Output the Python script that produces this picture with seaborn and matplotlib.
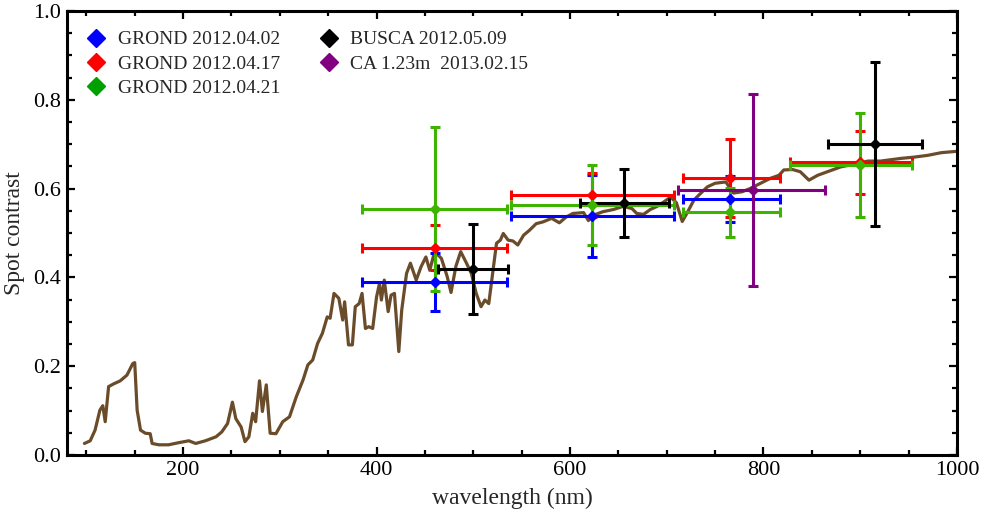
import pandas as pd
import seaborn as sns
import matplotlib.pyplot as plt
from matplotlib.lines import Line2D
from matplotlib.ticker import MultipleLocator

# spectrum (brown curve)
wave = [98, 104, 109, 114, 117, 119.5, 123, 128, 135, 142, 148, 150, 152.5, 156, 161, 166,
        168, 175, 185, 196, 206, 213, 223, 234, 240, 246, 251, 254.5, 260, 264, 268, 272,
        275, 279, 282, 286, 290, 296, 303, 310, 317, 324, 329, 334, 339, 344, 349, 352,
        356, 361, 365, 367, 371, 375, 378, 382, 385, 388.5, 392, 396, 400, 403, 405, 408,
        412, 415, 418.5, 423, 426, 431, 435, 441, 446, 451, 455, 460, 467, 473, 477, 482,
        487, 493, 498, 503, 508, 512, 516, 520, 524, 528, 531, 536, 541, 546, 552, 558,
        565, 572, 581, 589, 596, 603, 614, 619, 624, 634, 645, 655, 664, 669, 676, 683,
        690, 697, 704, 710, 716, 721, 728, 733, 742, 750, 761, 769, 778, 786, 797, 807,
        816, 821, 830, 838, 847, 856, 866, 880, 894, 908, 921, 942, 956, 970, 984, 1000]
contrast = [0.026, 0.032, 0.056, 0.101, 0.111, 0.075, 0.154, 0.160, 0.167, 0.180, 0.206, 0.208,
            0.101, 0.056, 0.049, 0.048, 0.026, 0.023, 0.023, 0.028, 0.032, 0.026, 0.032, 0.041,
            0.052, 0.071, 0.119, 0.082, 0.063, 0.030, 0.041, 0.094, 0.075, 0.167, 0.098, 0.158,
            0.049, 0.048, 0.075, 0.086, 0.131, 0.169, 0.203, 0.214, 0.251, 0.274, 0.311, 0.308,
            0.364, 0.353, 0.304, 0.345, 0.248, 0.248, 0.334, 0.341, 0.364, 0.285, 0.289, 0.285,
            0.356, 0.386, 0.349, 0.394, 0.323, 0.360, 0.364, 0.233, 0.326, 0.409, 0.432, 0.394,
            0.424, 0.446, 0.416, 0.458, 0.443, 0.402, 0.366, 0.425, 0.458, 0.432, 0.409, 0.364,
            0.334, 0.349, 0.341, 0.409, 0.477, 0.484, 0.499, 0.484, 0.482, 0.473, 0.495, 0.506,
            0.521, 0.525, 0.533, 0.523, 0.536, 0.544, 0.546, 0.528, 0.540, 0.548, 0.553, 0.560,
            0.555, 0.544, 0.542, 0.553, 0.560, 0.570, 0.581, 0.568, 0.526, 0.545, 0.574, 0.585,
            0.604, 0.612, 0.615, 0.590, 0.593, 0.600, 0.612, 0.623, 0.630, 0.642, 0.643, 0.638,
            0.619, 0.630, 0.638, 0.649, 0.655, 0.662, 0.662, 0.668, 0.671, 0.675, 0.681, 0.684]

# measured spot contrasts: centre, band edges, value, error
labels = ['GROND 2012.04.02', 'GROND 2012.04.17', 'GROND 2012.04.21',
          'BUSCA 2012.05.09', 'CA 1.23m  2013.02.15']
bar_colors = ['#0000ff', '#ff0000', '#3cb400', '#000000', '#800080']
legend_colors = ['#0000ff', '#ff0000', '#00a000', '#000000', '#800080']

blue_x = [460, 623, 765]
blue_xlo = [385, 539, 717]
blue_xhi = [535, 707, 817]
blue_y = [0.390, 0.538, 0.577]
blue_yerr = [0.066, 0.093, 0.052]

red_x = [460, 623, 765, 900]
red_xlo = [385, 539, 717, 827]
red_xhi = [535, 707, 817, 954]
red_y = [0.467, 0.586, 0.624, 0.659]
red_yerr = [0.050, 0.050, 0.088, 0.071]

green_x = [460, 623, 765, 900]
green_xlo = [385, 539, 717, 827]
green_xhi = [535, 707, 817, 954]
green_y = [0.554, 0.563, 0.547, 0.653]
green_yerr = [0.185, 0.091, 0.055, 0.117]

black_x = [500, 656, 915]
black_xlo = [464, 610, 867]
black_xhi = [536, 702, 964]
black_y = [0.419, 0.568, 0.700]
black_yerr = [0.102, 0.077, 0.185]

purple_x = [789]
purple_xlo = [712]
purple_xhi = [864]
purple_y = [0.597]
purple_yerr = [0.217]

series = [
    (blue_x, blue_xlo, blue_xhi, blue_y, blue_yerr),
    (red_x, red_xlo, red_xhi, red_y, red_yerr),
    (green_x, green_xlo, green_xhi, green_y, green_yerr),
    (black_x, black_xlo, black_xhi, black_y, black_yerr),
    (purple_x, purple_xlo, purple_xhi, purple_y, purple_yerr),
]

sns.set_style('ticks')
plt.rcParams['font.family'] = ['Liberation Serif', 'DejaVu Serif']

fig = plt.figure(figsize=(9.81, 5.19), dpi=100)
ax = fig.add_axes([0.0683, 0.1233, 0.9072, 0.8555])

spec = pd.DataFrame({'wave': wave, 'contrast': contrast})
sns.lineplot(x='wave', y='contrast', data=spec, ax=ax, color='#6b4c2a', lw=2.3,
             zorder=1, estimator=None, sort=False)

for (x, xlo, xhi, y, yerr), col in zip(series, bar_colors):
    xerr = [[c - lo for c, lo in zip(x, xlo)], [hi - c for c, hi in zip(x, xhi)]]
    ax.errorbar(x, y, xerr=xerr, yerr=yerr, fmt='D', color=col, ms=5, lw=2.2,
                capsize=3.5, capthick=2.2, zorder=3)

handles = [Line2D([], [], ls='none', marker='D', ms=9, color=c) for c in legend_colors]
ax.legend(handles, labels, loc='upper left', ncol=2, frameon=False, fontsize=14,
          bbox_to_anchor=(0.0, 0.995), handletextpad=0.5, columnspacing=1.9,
          labelspacing=0.34, handlelength=1.2)

ax.set_xlim(80, 1000)
ax.set_ylim(0, 1)
ax.xaxis.set_major_locator(MultipleLocator(200))
ax.xaxis.set_minor_locator(MultipleLocator(50))
ax.yaxis.set_major_locator(MultipleLocator(0.2))
ax.yaxis.set_minor_locator(MultipleLocator(0.05))
ax.yaxis.set_major_formatter(plt.FuncFormatter(lambda v, p: f'{v:.1f}'))
ax.tick_params(which='both', direction='in', top=True, right=True, colors='black',
               labelsize=16, width=1.6)
ax.tick_params(which='major', length=6, pad=4)
ax.tick_params(which='minor', length=3.5)
for s in ax.spines.values():
    s.set_linewidth(2.2)
    s.set_color('black')

ax.set_xlabel('wavelength (nm)', fontsize=17, labelpad=6)
ax.set_ylabel('Spot contrast', fontsize=17, labelpad=6)

plt.savefig('out.png', dpi=100)
